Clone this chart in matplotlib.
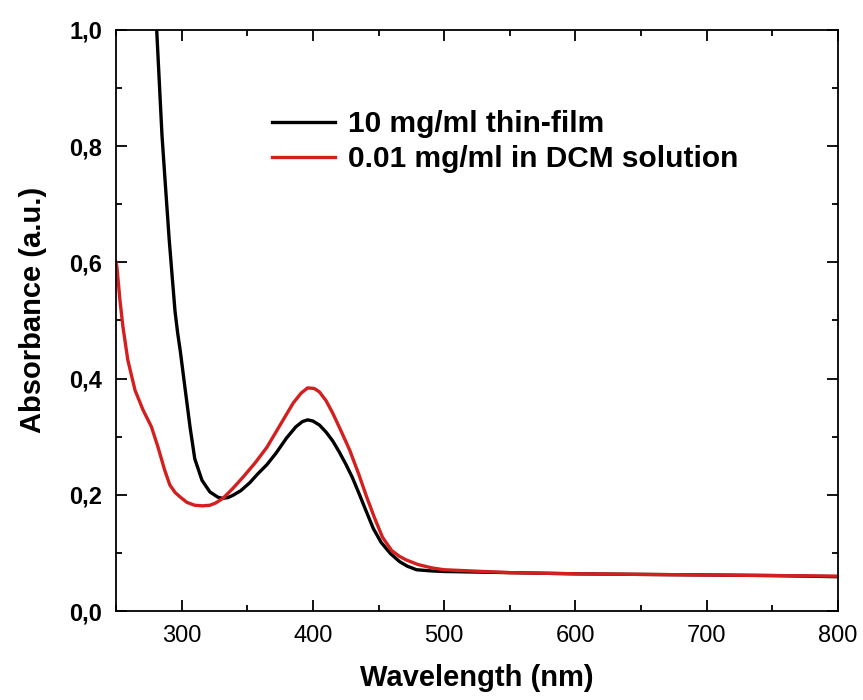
import matplotlib
matplotlib.use("Agg")
import matplotlib.pyplot as plt
from matplotlib.ticker import MultipleLocator, FuncFormatter

# Thin film (10 mg/ml)
film_wl = [279, 281, 283, 285, 287.5, 290.5, 293, 295, 297, 299, 302.5, 306.5, 310, 315.5, 321.5, 327.5,
           331, 335, 339, 345, 352, 358, 365, 372, 380, 387, 392, 396, 400, 405, 410,
           415, 420, 425, 430, 435, 440, 446, 452, 459, 466, 472, 479, 490, 500, 550,
           600, 650, 700, 750, 800]
film_abs = [1.05, 1.0, 0.91, 0.82, 0.737, 0.64, 0.57, 0.515, 0.478, 0.447, 0.385, 0.315, 0.262, 0.225, 0.205, 0.196,
            0.194, 0.195, 0.199, 0.207, 0.221, 0.236, 0.252, 0.272, 0.298, 0.317, 0.326, 0.329, 0.327, 0.320, 0.308,
            0.293, 0.274, 0.253, 0.230, 0.203, 0.175, 0.142, 0.118, 0.099, 0.085, 0.077, 0.071, 0.069, 0.068, 0.066,
            0.064, 0.063, 0.062, 0.061, 0.059]

# DCM solution (0.01 mg/ml)
sol_wl = [250, 250.7, 253, 255.3, 259, 264.5, 270.6, 277, 282, 287, 291, 295, 299, 304, 310, 316,
          321.5, 326, 331.5, 339, 347, 356, 365, 375, 385, 391, 396, 401, 405, 410, 415, 421,
          428, 435, 441, 447, 453, 460, 466, 471, 480, 491, 500, 550, 600, 700, 800]
sol_abs = [0.60, 0.592, 0.535, 0.489, 0.432, 0.38, 0.346, 0.317, 0.282, 0.243, 0.217, 0.204, 0.196, 0.187, 0.182, 0.181,
           0.182, 0.186, 0.194, 0.211, 0.231, 0.255, 0.282, 0.320, 0.358, 0.375, 0.384, 0.383, 0.377, 0.362, 0.341, 0.312,
           0.277, 0.235, 0.196, 0.160, 0.127, 0.104, 0.094, 0.088, 0.080, 0.074, 0.071, 0.066, 0.064, 0.062, 0.060]

labels = ["10 mg/ml thin-film", "0.01 mg/ml in DCM solution"]
colors = ["#000000", "#d41f1f"]

plt.rcParams['font.family'] = ['Liberation Sans', 'DejaVu Sans']

fig = plt.figure(figsize=(8.63, 7.0), dpi=100)
ax = fig.add_axes([116/863, 1 - 611/700, (838-116)/863, (611-30)/700])

ax.plot(film_wl, film_abs, color=colors[0], lw=2.4, label=labels[0])
ax.plot(sol_wl, sol_abs, color=colors[1], lw=2.4, label=labels[1])

ax.set_xlim(250, 800)
ax.set_ylim(0, 1.0)
ax.xaxis.set_major_locator(MultipleLocator(100))
ax.xaxis.set_minor_locator(MultipleLocator(50))
ax.yaxis.set_major_locator(MultipleLocator(0.2))
ax.yaxis.set_minor_locator(MultipleLocator(0.1))
ax.yaxis.set_major_formatter(FuncFormatter(lambda v, p: f"{v:.1f}".replace('.', ',')))
ax.xaxis.set_major_formatter(FuncFormatter(lambda v, p: "" if v == 250 else f"{v:.0f}"))

ax.tick_params(which='both', direction='in', top=True, right=True, width=1.3)
ax.tick_params(which='major', length=8)
ax.tick_params(which='minor', length=4)
ax.tick_params(axis='x', which='major', labelsize=17, pad=10)
ax.tick_params(axis='y', which='major', labelsize=17, pad=10)
for lab in ax.get_yticklabels():
    lab.set_fontweight('bold')
for s in ax.spines.values():
    s.set_linewidth(1.3)

ax.set_xlabel("Wavelength (nm)", fontsize=21, fontweight='bold', labelpad=12)
ax.set_ylabel("Absorbance (a.u.)", fontsize=21, fontweight='bold')
ax.yaxis.set_label_coords(-0.096, 0.518)

leg = ax.legend(loc='upper left', bbox_to_anchor=(272/863, 1 - 110/700), bbox_transform=fig.transFigure,
                frameon=False, prop={'weight': 'bold', 'size': 21.5}, handlelength=2.1,
                handletextpad=0.43, labelspacing=0.25, borderpad=0, borderaxespad=0)

fig.savefig("out.png", dpi=100)
